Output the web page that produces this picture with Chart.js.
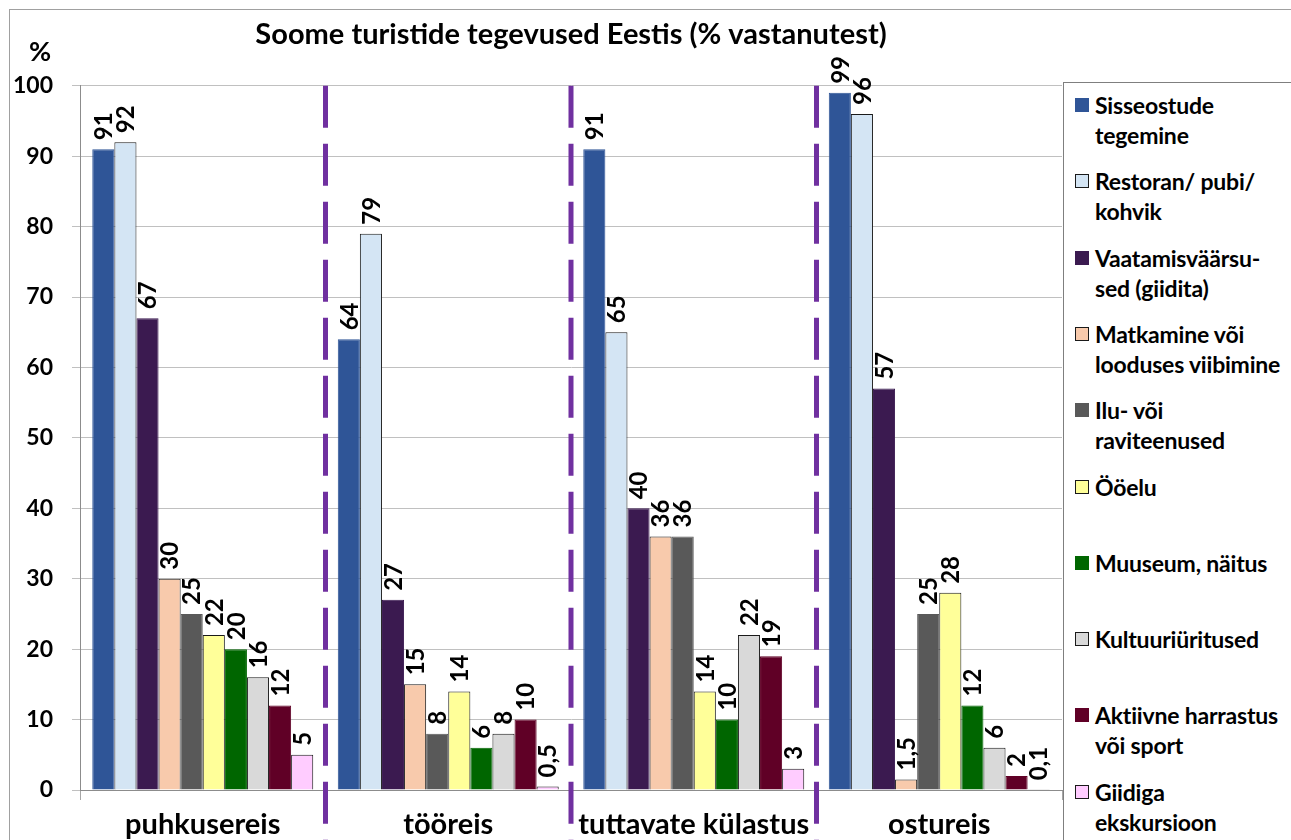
<!DOCTYPE html>
<html>
<head>
<meta charset="utf-8">
<script src="https://cdn.jsdelivr.net/npm/chart.js@4.4.1/dist/chart.umd.min.js"></script>
<style>
    html, body { margin: 0; padding: 0; background: #fff; overflow: hidden; }
    #wrap { position: relative; width: 1291px; height: 840px; }
    #frame { position: absolute; left: 9px; top: 9px; width: 1400px; height: 1000px; border: 1px solid #a0a0a0; pointer-events: none; }
    #data-chart { position: absolute; left: 0; top: 0; }
    #legend { position: absolute; left: 1063px; top: 82px; width: 400px; height: 900px; border: 1px solid #7f7f7f; background: #fff;
              font-family: Lato, "Open Sans", sans-serif; font-weight: bold; font-size: 23px; color: #000; }
    #legend .item { position: absolute; left: 11px; line-height: 30px; white-space: pre-line; }
    #legend .box { position: absolute; left: 0; top: 8px; width: 12px; height: 12px; border: 1px solid transparent; }
    #legend .txt { display: block; margin-left: 20px; letter-spacing: -0.2px; }
</style>
</head>
<body>
<div id="wrap">
    <div id="frame"></div>
    <canvas id="data-chart" width="1291" height="840"></canvas>
    <div id="legend"></div>
</div>
<script>
const categories = ['puhkusereis', 'tööreis', 'tuttavate külastus', 'ostureis'];

const seriesNames = [
    'Sisseostude\ntegemine',
    'Restoran/ pubi/\nkohvik',
    'Vaatamisväärsu-\nsed (giidita)',
    'Matkamine või\nlooduses viibimine',
    'Ilu- või\nraviteenused',
    'Ööelu',
    'Muuseum, näitus',
    'Kultuuriüritused',
    'Aktiivne harrastus\nvõi sport',
    'Giidiga\nekskursioon'
];

const sisseostud = [91, 64, 91, 99];
const restoran = [92, 79, 65, 96];
const vaatamisvaarsused = [67, 27, 40, 57];
const matkamine = [30, 15, 36, 1.5];
const iluRavi = [25, 8, 36, 25];
const ooelu = [22, 14, 14, 28];
const muuseum = [20, 6, 10, 12];
const kultuur = [16, 8, 22, 6];
const aktiivne = [12, 10, 19, 2];
const giidiga = [5, 0.5, 3, 0.1];

const yTicks = [0, 10, 20, 30, 40, 50, 60, 70, 80, 90, 100];

const seriesValues = [sisseostud, restoran, vaatamisvaarsused, matkamine, iluRavi, ooelu, muuseum, kultuur, aktiivne, giidiga];
const fillColors = ['#2F5597', '#D4E5F4', '#3B1A50', '#F8CAAC', '#595959', '#FFFF99', '#006600', '#D9D9D9', '#600026', '#FFCCFF'];
const edgeColors = ['#2F5597', '#1a1a1a', '#3B1A50', '#1a1a1a', '#595959', '#1a1a1a', '#006600', '#1a1a1a', '#600026', '#1a1a1a'];

const FONT = 'Lato, "Open Sans", sans-serif';

function fmt(v) {
    return String(v).replace('.', ',');
}

// value labels standing on the bars, rotated
const barLabels = {
    id: 'barLabels',
    afterDatasetsDraw(chart) {
        const ctx = chart.ctx;
        ctx.save();
        ctx.font = 'bold 24px ' + FONT;
        ctx.fillStyle = '#000';
        ctx.textAlign = 'left';
        ctx.textBaseline = 'middle';
        chart.data.datasets.forEach((ds, i) => {
            chart.getDatasetMeta(i).data.forEach((bar, j) => {
                ctx.save();
                ctx.translate(bar.x + 1, bar.y - 9);
                ctx.rotate(-Math.PI / 2);
                ctx.fillText(fmt(ds.data[j]), 0, 0);
                ctx.restore();
            });
        });
        ctx.restore();
    }
};

// purple dashed separators between groups + the "%" unit
const separators = {
    id: 'separators',
    afterDraw(chart) {
        const ctx = chart.ctx;
        const x = chart.scales.x;
        const top = chart.chartArea.top;
        ctx.save();
        ctx.strokeStyle = '#7030A0';
        ctx.lineWidth = 5;
        ctx.setLineDash([42, 16]);
        for (let i = 0; i < categories.length - 1; i++) {
            const px = (x.getPixelForValue(i) + x.getPixelForValue(i + 1)) / 2;
            ctx.beginPath();
            ctx.moveTo(px, top);
            ctx.lineTo(px, chart.height);
            ctx.stroke();
        }
        ctx.setLineDash([]);
        ctx.font = 'bold 27px ' + FONT;
        ctx.fillStyle = '#000';
        ctx.textAlign = 'center';
        ctx.textBaseline = 'middle';
        ctx.fillText('%', 40, 52);
        ctx.restore();
    }
};

document.addEventListener('DOMContentLoaded', () => {
    const ctx = document.getElementById('data-chart').getContext('2d');

    const dataChart = new Chart(ctx, {
        type: 'bar',
        data: {
            labels: categories,
            datasets: seriesNames.map((name, i) => ({
                label: name,
                data: seriesValues[i],
                backgroundColor: fillColors[i],
                borderColor: edgeColors[i],
                borderWidth: 1,
                categoryPercentage: 0.9,
                barPercentage: 1.0
            }))
        },
        options: {
            responsive: false,
            animation: false,
            devicePixelRatio: 1,
            layout: {
                padding: { left: 0, right: 229, top: 0, bottom: 0 }
            },
            plugins: {
                legend: { display: false },
                tooltip: { enabled: false },
                title: {
                    display: true,
                    fullSize: false,
                    text: 'Soome turistide tegevused Eestis (% vastanutest)',
                    color: '#000',
                    font: { family: FONT, size: 29, weight: 'bold' },
                    padding: { top: 17, bottom: 34 }
                }
            },
            scales: {
                x: {
                    grid: {
                        display: true,
                        drawOnChartArea: false,
                        tickLength: 10,
                        color: '#a6a6a6'
                    },
                    border: { color: '#8c8c8c' },
                    ticks: {
                        color: '#000',
                        padding: 7,
                        font: { family: FONT, size: 29, weight: 'bold' }
                    },
                    afterFit(scale) { scale.height = 50; }
                },
                y: {
                    min: 0,
                    max: 100,
                    afterBuildTicks(scale) {
                        scale.ticks = yTicks.map(v => ({ value: v }));
                    },
                    grid: {
                        color: '#c0c0c0',
                        tickLength: 8
                    },
                    border: { color: '#8c8c8c' },
                    ticks: {
                        color: '#000',
                        padding: 19,
                        font: { family: FONT, size: 23, weight: 'bold' }
                    },
                    afterFit(scale) { scale.width = 80; }
                }
            }
        },
        plugins: [barLabels, separators]
    });

    // html legend built from the chart's datasets
    const legendBox = document.getElementById('legend');
    dataChart.data.datasets.forEach((ds, i) => {
        const item = document.createElement('div');
        item.className = 'item';
        item.style.top = (7 + i * 76.3) + 'px';
        const box = document.createElement('span');
        box.className = 'box';
        box.style.background = ds.backgroundColor;
        box.style.borderColor = ds.borderColor;
        const txt = document.createElement('span');
        txt.className = 'txt';
        txt.textContent = ds.label;
        item.appendChild(box);
        item.appendChild(txt);
        legendBox.appendChild(item);
    });
});
</script>
</body>
</html>
